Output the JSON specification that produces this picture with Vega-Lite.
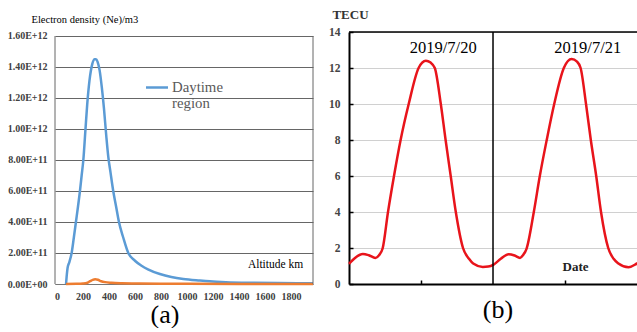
{
  "$schema": "https://vega.github.io/schema/vega-lite/v6.json",
  "background": "white",
  "padding": {"left": 7, "top": 8, "right": 0, "bottom": 0},
  "config": {"font": "Times New Roman", "view": {"stroke": null}},
  "bounds": "flush",
  "spacing": 36,
  "resolve": {"legend": {"color": "independent"}},
  "hconcat": [
    {
      "width": 258,
      "height": 252,
      "title": {"text": "(a)", "orient": "bottom", "fontSize": 26, "fontWeight": "normal", "color": "black", "font": "Times New Roman", "dx": -19, "offset": 1},
      "layer": [
        {
          "data": {"values": [
            {"altitude": 70, "ne": 0, "series": "Daytime region"},
            {"altitude": 76, "ne": 0.6e11, "series": "Daytime region"},
            {"altitude": 82, "ne": 1.05e11, "series": "Daytime region"},
            {"altitude": 95, "ne": 1.4e11, "series": "Daytime region"},
            {"altitude": 113, "ne": 2.0e11, "series": "Daytime region"},
            {"altitude": 130, "ne": 3.0e11, "series": "Daytime region"},
            {"altitude": 146, "ne": 4.0e11, "series": "Daytime region"},
            {"altitude": 162, "ne": 5.0e11, "series": "Daytime region"},
            {"altitude": 177, "ne": 6.0e11, "series": "Daytime region"},
            {"altitude": 190, "ne": 7.0e11, "series": "Daytime region"},
            {"altitude": 203, "ne": 8.0e11, "series": "Daytime region"},
            {"altitude": 218, "ne": 9.8e11, "series": "Daytime region"},
            {"altitude": 233, "ne": 11.6e11, "series": "Daytime region"},
            {"altitude": 250, "ne": 13.1e11, "series": "Daytime region"},
            {"altitude": 272, "ne": 14.2e11, "series": "Daytime region"},
            {"altitude": 290, "ne": 14.5e11, "series": "Daytime region"},
            {"altitude": 300, "ne": 14.5e11, "series": "Daytime region"},
            {"altitude": 312, "ne": 14.35e11, "series": "Daytime region"},
            {"altitude": 328, "ne": 13.8e11, "series": "Daytime region"},
            {"altitude": 345, "ne": 12.7e11, "series": "Daytime region"},
            {"altitude": 362, "ne": 11.3e11, "series": "Daytime region"},
            {"altitude": 380, "ne": 9.5e11, "series": "Daytime region"},
            {"altitude": 395, "ne": 8.2e11, "series": "Daytime region"},
            {"altitude": 412, "ne": 7.2e11, "series": "Daytime region"},
            {"altitude": 433, "ne": 6.0e11, "series": "Daytime region"},
            {"altitude": 455, "ne": 5.0e11, "series": "Daytime region"},
            {"altitude": 477, "ne": 4.0e11, "series": "Daytime region"},
            {"altitude": 510, "ne": 3.0e11, "series": "Daytime region"},
            {"altitude": 549, "ne": 2.0e11, "series": "Daytime region"},
            {"altitude": 600, "ne": 1.5e11, "series": "Daytime region"},
            {"altitude": 651, "ne": 1.18e11, "series": "Daytime region"},
            {"altitude": 700, "ne": 0.95e11, "series": "Daytime region"},
            {"altitude": 792, "ne": 0.645e11, "series": "Daytime region"},
            {"altitude": 880, "ne": 0.45e11, "series": "Daytime region"},
            {"altitude": 972, "ne": 0.32e11, "series": "Daytime region"},
            {"altitude": 1100, "ne": 0.22e11, "series": "Daytime region"},
            {"altitude": 1177, "ne": 0.17e11, "series": "Daytime region"},
            {"altitude": 1300, "ne": 0.12e11, "series": "Daytime region"},
            {"altitude": 1500, "ne": 0.08e11, "series": "Daytime region"},
            {"altitude": 1700, "ne": 0.06e11, "series": "Daytime region"},
            {"altitude": 1970, "ne": 0.05e11, "series": "Daytime region"},
            {"altitude": 70, "ne": 0, "series": "Nighttime region"},
            {"altitude": 150, "ne": 0.01e11, "series": "Nighttime region"},
            {"altitude": 200, "ne": 0.03e11, "series": "Nighttime region"},
            {"altitude": 235, "ne": 0.08e11, "series": "Nighttime region"},
            {"altitude": 255, "ne": 0.18e11, "series": "Nighttime region"},
            {"altitude": 275, "ne": 0.27e11, "series": "Nighttime region"},
            {"altitude": 295, "ne": 0.3e11, "series": "Nighttime region"},
            {"altitude": 315, "ne": 0.27e11, "series": "Nighttime region"},
            {"altitude": 340, "ne": 0.18e11, "series": "Nighttime region"},
            {"altitude": 370, "ne": 0.12e11, "series": "Nighttime region"},
            {"altitude": 420, "ne": 0.08e11, "series": "Nighttime region"},
            {"altitude": 500, "ne": 0.05e11, "series": "Nighttime region"},
            {"altitude": 600, "ne": 0.035e11, "series": "Nighttime region"},
            {"altitude": 800, "ne": 0.02e11, "series": "Nighttime region"},
            {"altitude": 1000, "ne": 0.012e11, "series": "Nighttime region"},
            {"altitude": 1400, "ne": 0.006e11, "series": "Nighttime region"},
            {"altitude": 1970, "ne": 0.004e11, "series": "Nighttime region"}
          ]},
          "mark": {"type": "line", "interpolate": "monotone", "strokeWidth": 2.5},
          "encoding": {
            "x": {
              "field": "altitude", "type": "quantitative",
              "scale": {"domain": [-15, 1970], "nice": false, "zero": false},
              "axis": {
                "values": [0, 200, 400, 600, 800, 1000, 1200, 1400, 1600, 1800], "tickCount": 30,
                "format": "d", "grid": false, "ticks": false, "labelOverlap": false,
                "domainColor": "#777", "labelFont": "Times New Roman", "labelFontSize": 10, "labelFontWeight": "bold", "labelColor": "#404040", "labelPadding": 7,
                "title": "Altitude  km", "titleFont": "Times New Roman", "titleFontSize": 11.5, "titleFontWeight": "normal", "titleColor": "black",
                "titleAlign": "center", "titleBaseline": "middle", "titleX": 220, "titleY": -20
              }
            },
            "y": {
              "field": "ne", "type": "quantitative",
              "scale": {"domain": [0, 1.6258e12], "nice": false},
              "axis": {
                "values": [0, 2e11, 4e11, 6e11, 8e11, 1e12, 1.2e12, 1.4e12, 1.6e12], "tickCount": 30,
                "labelExpr": "datum.value == 0 ? '0.00E+00' : upper(format(datum.value, '.2e'))",
                "grid": true, "gridColor": "#666", "domain": false, "ticks": false, "labelOverlap": false,
                "labelFont": "Times New Roman", "labelFontSize": 10, "labelFontWeight": "bold", "labelColor": "#404040", "labelPadding": 8,
                "title": "Electron density (Ne)/m3", "titleAngle": 0, "titleAlign": "left", "titleBaseline": "middle",
                "titleX": -24, "titleY": -13, "titleFont": "Times New Roman", "titleFontSize": 10.5, "titleFontWeight": "normal", "titleColor": "black"
              }
            },
            "color": {
              "field": "series", "type": "nominal",
              "scale": {"domain": ["Daytime region", "Nighttime region"], "range": ["#5B9BD5", "#ED7D31"]},
              "legend": {
                "orient": "none", "legendX": 89.5, "legendY": 43, "values": ["Daytime region"], "title": null,
                "symbolType": "stroke", "symbolSize": 484, "symbolStrokeWidth": 2.5, "symbolStrokeColor": "#5B9BD5",
                "labelFont": "Times New Roman", "labelFontSize": 14.8, "labelColor": "#595959",
                "labelExpr": "split(datum.label, ' ')", "labelLineHeight": 18, "labelOffset": 2.5, "padding": 0
              }
            }
          }
        },
        {
          "data": {"values": [{}]},
          "mark": {"type": "rule", "color": "#666", "strokeWidth": 1},
          "encoding": {"x": {"datum": -15}, "y": {"datum": 0}, "y2": {"datum": 1.6e12}}
        },
        {
          "data": {"values": [{}]},
          "mark": {"type": "rule", "color": "#666", "strokeWidth": 1},
          "encoding": {"x": {"datum": 1970}, "y": {"datum": 0}, "y2": {"datum": 1.6e12}}
        }
      ]
    },
    {
      "width": 290,
      "height": 252,
      "title": {"text": "(b)", "orient": "bottom", "fontSize": 26, "fontWeight": "normal", "color": "black", "font": "Times New Roman", "dx": 4, "offset": 7},
      "layer": [
        {
          "data": {"values": [
            {"hour": 0, "tec": 1.12}, {"hour": 1, "tec": 1.45}, {"hour": 2.3, "tec": 1.67}, {"hour": 3.3, "tec": 1.6},
            {"hour": 4.4, "tec": 1.45}, {"hour": 5, "tec": 1.6}, {"hour": 5.6, "tec": 1.97}, {"hour": 6.5, "tec": 4.0},
            {"hour": 7.5, "tec": 6.0}, {"hour": 8.6, "tec": 8.0}, {"hour": 9.95, "tec": 10.0}, {"hour": 11.6, "tec": 12.0},
            {"hour": 12.8, "tec": 12.4}, {"hour": 13.6, "tec": 12.3}, {"hour": 14.3, "tec": 12.0}, {"hour": 15.3, "tec": 10.0},
            {"hour": 16.1, "tec": 8.0}, {"hour": 16.95, "tec": 6.0}, {"hour": 17.8, "tec": 4.0}, {"hour": 19.0, "tec": 2.0},
            {"hour": 20.0, "tec": 1.4}, {"hour": 20.7, "tec": 1.14}, {"hour": 22.3, "tec": 0.95}, {"hour": 23.2, "tec": 0.97},
            {"hour": 24.1, "tec": 1.08}, {"hour": 25.3, "tec": 1.4}, {"hour": 26.6, "tec": 1.65}, {"hour": 27.6, "tec": 1.58},
            {"hour": 28.5, "tec": 1.45}, {"hour": 29.0, "tec": 1.6}, {"hour": 29.6, "tec": 1.97}, {"hour": 30.8, "tec": 4.0},
            {"hour": 31.8, "tec": 6.0}, {"hour": 32.95, "tec": 8.0}, {"hour": 34.2, "tec": 10.0}, {"hour": 35.8, "tec": 12.0},
            {"hour": 37.1, "tec": 12.5}, {"hour": 38.0, "tec": 12.35}, {"hour": 38.6, "tec": 12.0}, {"hour": 39.5, "tec": 10.0},
            {"hour": 40.3, "tec": 8.0}, {"hour": 41.2, "tec": 6.0}, {"hour": 42.0, "tec": 4.0}, {"hour": 43.2, "tec": 2.0},
            {"hour": 44.1, "tec": 1.4}, {"hour": 44.9, "tec": 1.14}, {"hour": 46.6, "tec": 0.93}, {"hour": 48, "tec": 1.14},
            {"hour": 48.33, "tec": 1.2}
          ]},
          "mark": {"type": "line", "interpolate": "monotone", "color": "#E8141B", "strokeWidth": 2.5},
          "encoding": {
            "x": {
              "field": "hour", "type": "quantitative",
              "scale": {"domain": [0, 48.33], "nice": false},
              "axis": {
                "values": [12, 36], "tickCount": 30, "labels": false, "grid": false, "tickSize": -4, "tickColor": "black", "tickWidth": 1.5,
                "domainColor": "black", "domainWidth": 2,
                "title": "Date", "titleFont": "Times New Roman", "titleFontSize": 13, "titleFontWeight": "bold", "titleColor": "#222",
                "titleAlign": "center", "titleBaseline": "middle", "titleX": 226, "titleY": -18
              }
            },
            "y": {
              "field": "tec", "type": "quantitative",
              "scale": {"domain": [0, 14], "nice": false},
              "axis": {
                "values": [0, 2, 4, 6, 8, 10, 12, 14], "tickCount": 30, "format": "d", "grid": true, "gridColor": "#d0d0d0", "labelOverlap": false,
                "tickSize": -4, "tickColor": "black", "tickWidth": 1.5, "domainColor": "black", "domainWidth": 2,
                "labelFont": "Times New Roman", "labelFontSize": 11.5, "labelFontWeight": "bold", "labelColor": "#444", "labelPadding": 13,
                "title": "TECU", "titleAngle": 0, "titleAlign": "center", "titleBaseline": "middle",
                "titleX": 1, "titleY": -18, "titleFont": "Times New Roman", "titleFontSize": 13, "titleFontWeight": "bold", "titleColor": "#333"
              }
            }
          }
        },
        {
          "data": {"values": [{}]},
          "mark": {"type": "rule", "color": "black", "strokeWidth": 1.5},
          "encoding": {"x": {"datum": 24}}
        },
        {
          "data": {"values": [{}]},
          "mark": {"type": "rule", "color": "black", "strokeWidth": 1.5},
          "encoding": {"y": {"datum": 14}}
        },
        {
          "data": {"values": [
            {"hour": 15.7, "tec": 13.1, "label": "2019/7/20"},
            {"hour": 39.8, "tec": 13.1, "label": "2019/7/21"}
          ]},
          "mark": {"type": "text", "font": "Times New Roman", "fontSize": 16.5, "color": "black", "baseline": "middle", "align": "center"},
          "encoding": {
            "x": {"field": "hour", "type": "quantitative"},
            "y": {"field": "tec", "type": "quantitative"},
            "text": {"field": "label"}
          }
        }
      ]
    }
  ]
}
